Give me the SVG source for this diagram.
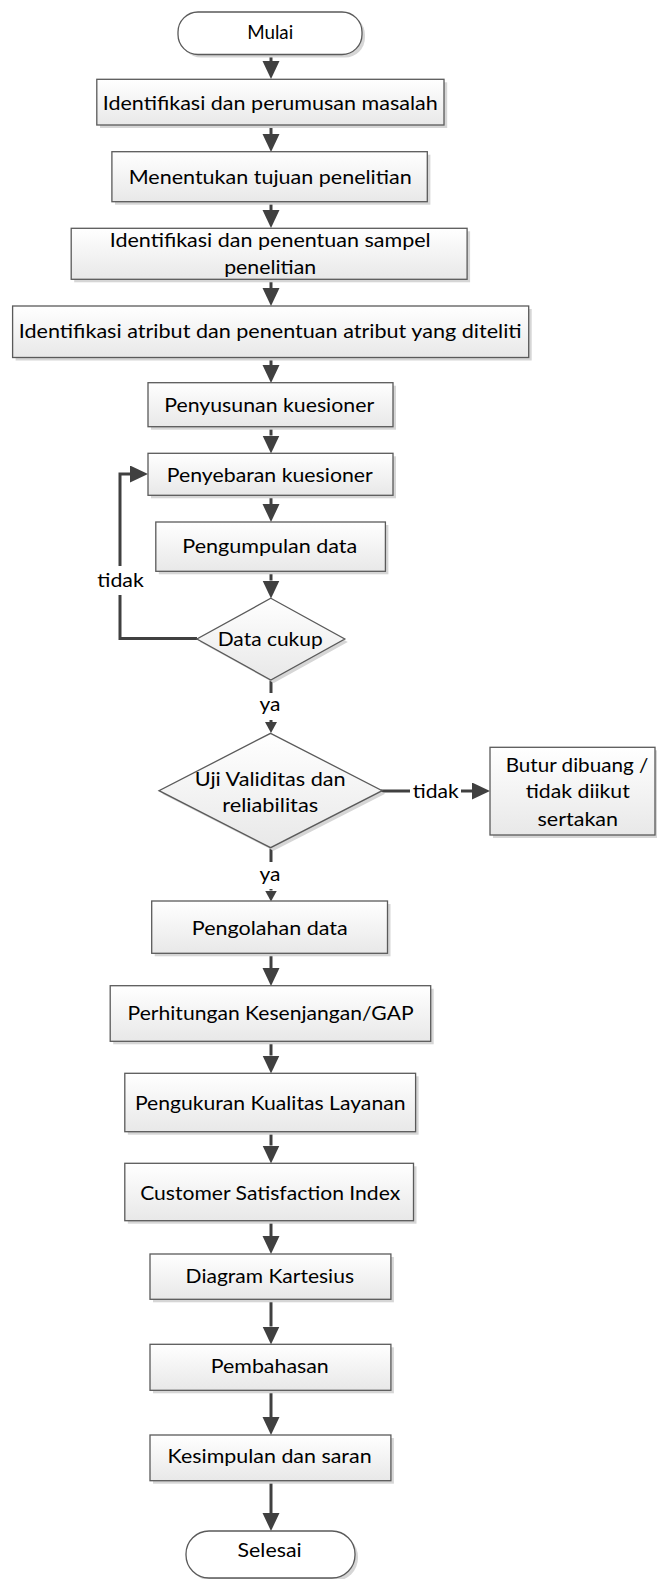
<svg xmlns="http://www.w3.org/2000/svg" width="657" height="1579" viewBox="0 0 657 1579">
<style>
.box{fill:url(#g);stroke:#5a5a5a;stroke-width:1.3}
.term{fill:#ffffff;stroke:#5a5a5a;stroke-width:1.3}
.sh{fill:#d6d6d6}
.conn{stroke:#404040;stroke-width:3;fill:none}
.t{font-family:Lato,"Open Sans",sans-serif;font-size:19px;fill:#000;text-anchor:middle}
.bg{fill:#ffffff}
</style>
<defs>
<linearGradient id="g" x1="0" y1="0" x2="0" y2="1">
<stop offset="0" stop-color="#ffffff"/>
<stop offset="1" stop-color="#e8e8e8"/>
</linearGradient>
<marker id="a" markerUnits="userSpaceOnUse" markerWidth="18" markerHeight="18" refX="0" refY="8.5" orient="auto">
<path d="M0,0 L18,8.5 L0,17 z" fill="#404040"/>
</marker>
<marker id="s" markerUnits="userSpaceOnUse" markerWidth="12" markerHeight="13" refX="0" refY="6" orient="auto">
<path d="M0,0 L11,6 L0,12 z" fill="#404040"/>
</marker>
</defs>

<g id="connectors">
<path class="conn" marker-end="url(#a)" d="M271,54 V61"/>
<path class="conn" marker-end="url(#a)" d="M271,125 V134"/>
<path class="conn" marker-end="url(#a)" d="M271,202 V210"/>
<path class="conn" marker-end="url(#a)" d="M271,279 V288"/>
<path class="conn" marker-end="url(#a)" d="M271,357.5 V365"/>
<path class="conn" marker-end="url(#a)" d="M271,427 V435.5"/>
<path class="conn" marker-end="url(#a)" d="M271,495.5 V504"/>
<path class="conn" marker-end="url(#a)" d="M271,571.5 V580.5"/>
<path class="conn" marker-end="url(#s)" d="M271,680 V722"/>
<rect class="bg" x="255" y="693" width="32" height="27"/>
<text class="t" x="270" y="711" textLength="21" lengthAdjust="spacingAndGlyphs">ya</text>
<path class="conn" marker-end="url(#s)" d="M271,848 V890.5"/>
<rect class="bg" x="255" y="862" width="32" height="27"/>
<text class="t" x="270" y="881" textLength="21" lengthAdjust="spacingAndGlyphs">ya</text>
<path class="conn" marker-end="url(#a)" d="M271,953.5 V968"/>
<path class="conn" marker-end="url(#a)" d="M271,1041.5 V1055.5"/>
<path class="conn" marker-end="url(#a)" d="M271,1132 V1145.5"/>
<path class="conn" marker-end="url(#a)" d="M271,1221 V1236"/>
<path class="conn" marker-end="url(#a)" d="M271,1299.5 V1326.5"/>
<path class="conn" marker-end="url(#a)" d="M271,1390.5 V1417"/>
<path class="conn" marker-end="url(#a)" d="M271,1481 V1513"/>
<path class="conn" marker-end="url(#a)" d="M197,638.5 H120 V474 H130"/>
<rect class="bg" x="95" y="566" width="52" height="29"/>
<text class="t" x="120.5" y="587" textLength="46.5" lengthAdjust="spacingAndGlyphs">tidak</text>
<path class="conn" marker-end="url(#a)" d="M381,791 H472"/>
<rect class="bg" x="410" y="778" width="51" height="26"/>
<text class="t" x="435.7" y="797.5" textLength="46" lengthAdjust="spacingAndGlyphs">tidak</text>
</g>

<g id="mulai">
<rect class="sh" x="181" y="15" width="184" height="42.5" rx="20"/>
<rect class="term" x="178" y="12" width="184" height="42.5" rx="20"/>
<text class="t" x="270.2" y="39.3" textLength="46" lengthAdjust="spacingAndGlyphs">Mulai</text>
</g>

<g id="n1">
<rect class="sh" x="100" y="82.3" width="347.2" height="45.7"/>
<rect class="box" x="96.8" y="79.3" width="347.2" height="45.7"/>
<text class="t" x="270.2" y="110" textLength="335" lengthAdjust="spacingAndGlyphs">Identifikasi dan perumusan masalah</text>
</g>

<g id="n2">
<rect class="sh" x="115" y="154.7" width="315.4" height="50"/>
<rect class="box" x="111.9" y="151.7" width="315.4" height="50"/>
<text class="t" x="270.2" y="184" textLength="283" lengthAdjust="spacingAndGlyphs">Menentukan tujuan penelitian</text>
</g>

<g id="n3">
<rect class="sh" x="74.2" y="231.3" width="395.9" height="51"/>
<rect class="box" x="71.2" y="228.3" width="395.9" height="51"/>
<text class="t" x="270.2" y="246.7" textLength="321" lengthAdjust="spacingAndGlyphs">Identifikasi dan penentuan sampel</text>
<text class="t" x="270.2" y="273.5" textLength="92" lengthAdjust="spacingAndGlyphs">penelitian</text>
</g>

<g id="n4">
<rect class="sh" x="15.6" y="309" width="516.1" height="51.5"/>
<rect class="box" x="12.6" y="306" width="516.1" height="51.5"/>
<text class="t" x="270.2" y="338.3" textLength="503" lengthAdjust="spacingAndGlyphs">Identifikasi atribut dan penentuan atribut yang diteliti</text>
</g>

<g id="n5">
<rect class="sh" x="151" y="385.7" width="245" height="44"/>
<rect class="box" x="148" y="382.7" width="245" height="44"/>
<text class="t" x="269.2" y="412.3" textLength="210" lengthAdjust="spacingAndGlyphs">Penyusunan kuesioner</text>
</g>

<g id="n6">
<rect class="sh" x="151" y="456.3" width="245" height="42"/>
<rect class="box" x="148" y="453.3" width="245" height="42"/>
<text class="t" x="269.8" y="481.7" textLength="206" lengthAdjust="spacingAndGlyphs">Penyebaran kuesioner</text>
</g>

<g id="n7">
<rect class="sh" x="158.8" y="525" width="229.6" height="49.3"/>
<rect class="box" x="155.8" y="522" width="229.6" height="49.3"/>
<text class="t" x="269.8" y="552.7" textLength="175" lengthAdjust="spacingAndGlyphs">Pengumpulan data</text>
</g>

<g id="d1">
<polygon class="sh" points="273.8,601.3 347.8,642 273.8,683 199.9,642"/>
<polygon class="box" points="270.8,598.3 344.8,639 270.8,680 196.9,639"/>
<text class="t" x="270.2" y="646" textLength="105" lengthAdjust="spacingAndGlyphs">Data cukup</text>
</g>

<g id="d2">
<polygon class="sh" points="273.6,736.3 385.2,793.7 273.6,850.7 162,793.7"/>
<polygon class="box" points="270.6,733.3 382.2,790.7 270.6,847.7 159,790.7"/>
<text class="t" x="270.2" y="786" textLength="151" lengthAdjust="spacingAndGlyphs">Uji Validitas dan</text>
<text class="t" x="270.2" y="811.7" textLength="96" lengthAdjust="spacingAndGlyphs">reliabilitas</text>
</g>

<g id="butur">
<rect class="sh" x="493" y="750.3" width="165" height="87.7"/>
<rect class="box" x="490" y="747.3" width="165" height="87.7"/>
<text class="t" x="577" y="771.7" textLength="142.5" lengthAdjust="spacingAndGlyphs">Butur dibuang /</text>
<text class="t" x="577.8" y="798.3" textLength="104" lengthAdjust="spacingAndGlyphs">tidak diikut</text>
<text class="t" x="577.8" y="826" textLength="80.5" lengthAdjust="spacingAndGlyphs">sertakan</text>
</g>

<g id="n8">
<rect class="sh" x="154.7" y="904" width="235.8" height="52.3"/>
<rect class="box" x="151.7" y="901" width="235.8" height="52.3"/>
<text class="t" x="269.8" y="935" textLength="156" lengthAdjust="spacingAndGlyphs">Pengolahan data</text>
</g>

<g id="n9">
<rect class="sh" x="113.2" y="988.7" width="320.5" height="55.6"/>
<rect class="box" x="110.2" y="985.7" width="320.5" height="55.6"/>
<text class="t" x="270.6" y="1020" textLength="286" lengthAdjust="spacingAndGlyphs">Perhitungan Kesenjangan/GAP</text>
</g>

<g id="n10">
<rect class="sh" x="127.8" y="1076.3" width="290.8" height="58.4"/>
<rect class="box" x="124.8" y="1073.3" width="290.8" height="58.4"/>
<text class="t" x="270.2" y="1110" textLength="270.6" lengthAdjust="spacingAndGlyphs">Pengukuran Kualitas Layanan</text>
</g>

<g id="n11">
<rect class="sh" x="127.8" y="1166.3" width="288.7" height="57.4"/>
<rect class="box" x="124.8" y="1163.3" width="288.7" height="57.4"/>
<text class="t" x="270.2" y="1200" textLength="260" lengthAdjust="spacingAndGlyphs">Customer Satisfaction Index</text>
</g>

<g id="n12">
<rect class="sh" x="153" y="1257" width="240.9" height="45.3"/>
<rect class="box" x="150" y="1254" width="240.9" height="45.3"/>
<text class="t" x="269.8" y="1282.7" textLength="168.4" lengthAdjust="spacingAndGlyphs">Diagram Kartesius</text>
</g>

<g id="n13">
<rect class="sh" x="153" y="1347.3" width="240.9" height="46"/>
<rect class="box" x="150" y="1344.3" width="240.9" height="46"/>
<text class="t" x="269.8" y="1373.3" textLength="118" lengthAdjust="spacingAndGlyphs">Pembahasan</text>
</g>

<g id="n14">
<rect class="sh" x="153" y="1438" width="240.9" height="45.7"/>
<rect class="box" x="150" y="1435" width="240.9" height="45.7"/>
<text class="t" x="269.6" y="1463.3" textLength="204" lengthAdjust="spacingAndGlyphs">Kesimpulan dan saran</text>
</g>

<g id="selesai">
<rect class="sh" x="189" y="1534" width="169" height="47" rx="23"/>
<rect class="term" x="186" y="1531" width="169" height="47" rx="23"/>
<text class="t" x="269.6" y="1557.3" textLength="64" lengthAdjust="spacingAndGlyphs">Selesai</text>
</g>
</svg>
